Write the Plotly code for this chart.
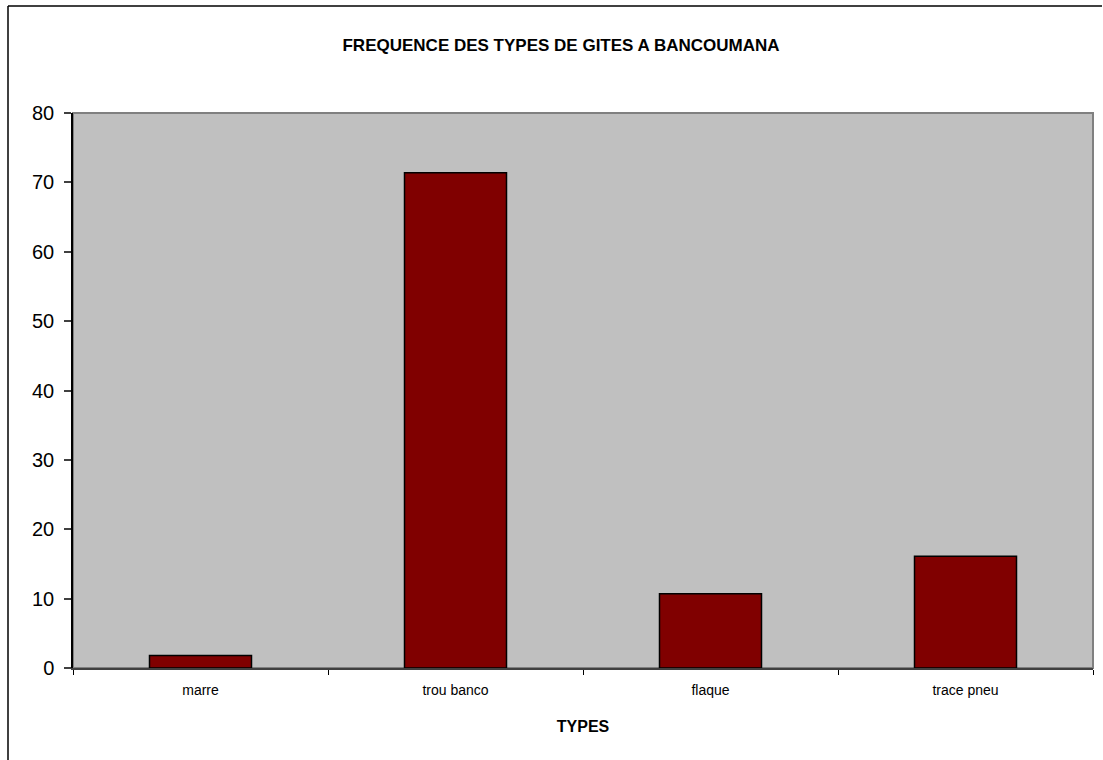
import plotly.graph_objects as go

categories = ["marre", "trou banco", "flaque", "trace pneu"]
values = [1.8, 71.4, 10.7, 16.1]
y_ticks = [0, 10, 20, 30, 40, 50, 60, 70, 80]

L, R, T, B = 73, 10, 113, 92
W, H = 1103, 760
pw, ph = W - L - R, H - T - B

fig = go.Figure(go.Bar(
    x=categories, y=values,
    marker=dict(color="#800000", line=dict(color="#000000", width=1.5)),
    width=0.4,
))

fx = (8 - L) / pw
fy = 1 + (T - 6) / ph

fig.update_layout(
    width=W, height=H,
    margin=dict(l=L, r=R, t=T, b=B),
    paper_bgcolor="white",
    plot_bgcolor="#c0c0c0",
    showlegend=False,
    font=dict(family="Liberation Sans, Arial, sans-serif", color="black"),
    title=dict(text="<b>FREQUENCE DES TYPES DE GITES A BANCOUMANA</b>",
               x=(561) / W, xanchor="center", y=1 - 45 / H, yanchor="middle",
               font=dict(size=17)),
    xaxis=dict(
        type="category", tickson="boundaries", ticks="outside", ticklen=5,
        tickcolor="#000000", tickwidth=1,
        showline=True, linecolor="#404040", linewidth=2, mirror=False,
        showgrid=False, tickfont=dict(size=14), ticklabelstandoff=8,
        title=dict(text="<b>TYPES</b>", font=dict(size=16), standoff=24),
    ),
    yaxis=dict(
        range=[0, 80], tickvals=y_ticks, ticks="outside", ticklen=7,
        tickcolor="#404040", tickwidth=2,
        showline=True, linecolor="#000000", linewidth=1.5,
        showgrid=False, zeroline=False, tickfont=dict(size=20),
        ticklabelstandoff=6,
    ),
    shapes=[
        dict(type="rect", xref="paper", yref="paper",
             x0=0, x1=1, y0=0, y1=1,
             line=dict(color="#808080", width=2), layer="below"),
        dict(type="line", xref="paper", yref="paper",
             x0=fx, x1=(W - 1 - L) / pw, y0=fy, y1=fy,
             line=dict(color="#000000", width=1.5)),
        dict(type="line", xref="paper", yref="paper",
             x0=fx, x1=fx, y0=fy, y1=-(H - (T + ph)) / ph,
             line=dict(color="#000000", width=1.5)),
    ],
)

fig.write_html("out.html")
